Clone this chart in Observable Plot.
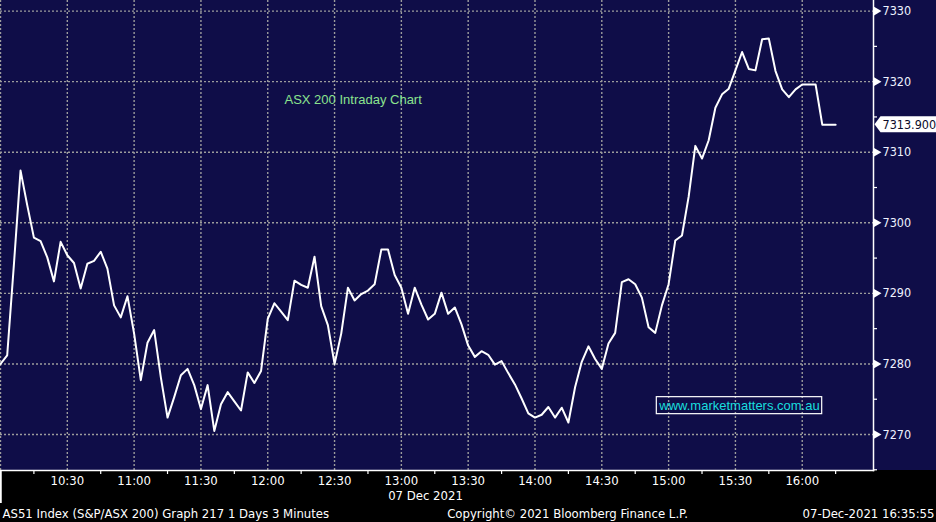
<!DOCTYPE html>
<html><head><meta charset="utf-8">
<script src="https://cdn.jsdelivr.net/npm/d3@7"></script>
<script src="https://cdn.jsdelivr.net/npm/@observablehq/plot@0.6"></script>
<style>
html,body{margin:0;padding:0;background:#000;}
#chart svg{display:block;}
</style></head><body><div id="chart"></div>
<script>
// ---- data ----
const sessionDate = "2021-12-07";
const firstBar = "10:00";
const barMinutes = 3;
const prices = [
  7280.0, 7281.2, 7294.0, 7307.4, 7302.5, 7297.9, 7297.4, 7295.1, 7291.7, 7297.3,
  7295.4, 7294.3, 7290.7, 7294.2, 7294.6, 7295.9, 7293.5, 7288.3, 7286.6, 7289.6,
  7284.3, 7277.7, 7283.0, 7284.8, 7278.1, 7272.4, 7275.3, 7278.4, 7279.3, 7277.0,
  7273.6, 7277.0, 7270.5, 7274.3, 7276.0, 7274.7, 7273.4, 7278.8, 7277.3, 7279.0,
  7286.4, 7288.6, 7287.4, 7286.2, 7291.8, 7291.2, 7290.8, 7295.2, 7288.2, 7285.5,
  7280.0, 7284.3, 7290.8, 7289.0, 7289.9, 7290.4, 7291.3, 7296.2, 7296.2, 7292.6,
  7290.8, 7287.1, 7290.8, 7288.4, 7286.3, 7287.1, 7290.1, 7287.1, 7288.0, 7285.6,
  7282.6, 7281.0, 7281.8, 7281.3, 7279.9, 7280.4, 7278.7, 7277.1, 7275.1, 7273.0,
  7272.4, 7272.8, 7273.9, 7272.4, 7273.8, 7271.7, 7276.7, 7280.3, 7282.5, 7280.7,
  7279.3, 7282.9, 7284.4, 7291.6, 7292.0, 7291.3, 7289.4, 7285.2, 7284.4, 7288.3,
  7291.3, 7297.5, 7298.2, 7303.7, 7310.9, 7309.1, 7311.7, 7316.3, 7318.2, 7319.0,
  7321.6, 7324.2, 7321.8, 7321.6, 7326.0, 7326.1, 7321.5, 7318.9, 7317.8, 7318.9,
  7319.6, 7319.6, 7319.6, 7313.9, 7313.9, 7313.9
];
const yTicks = [7270, 7280, 7290, 7300, 7310, 7320, 7330];
const yMinorTicks = [7265, 7275, 7285, 7295, 7305, 7315, 7325];
const yDomain = [7264.9, 7331.5];
const xDomain = ["10:00", "16:32"];
const gridTimes = ["10:00","10:30","11:00","11:30","12:00","12:30","13:00","13:30","14:00","14:30","15:00","15:30","16:00"];
const labelTimes = ["10:30","11:00","11:30","12:00","12:30","13:00","13:30","14:00","14:30","15:00","15:30","16:00"];
const minorTimes = ["10:15","10:45","11:15","11:45","12:15","12:45","13:15","13:45","14:15","14:45","15:15","15:45","16:15"];
const dateLabel = "07 Dec 2021";
const chartTitle = "ASX 200 Intraday Chart";
const watermark = "www.marketmatters.com.au";
const footerLeft = "AS51 Index (S&P/ASX 200) Graph 217 1 Days 3 Minutes";
const footerMid = "Copyright\u00A9 2021 Bloomberg Finance L.P.";
const footerRight = "07-Dec-2021 16:35:55";

// ---- build ----
const t = s => new Date(`${sessionDate}T${s}:00Z`);
const t0 = t(firstBar).getTime();
const data = prices.map((p, i) => ({time: new Date(t0 + i * barMinutes * 60000), price: p}));
const last = prices[prices.length - 1];

const W = 936, H = 522, MR = 63, MB = 52;
const frameW = W - MR, frameH = H - MB;
const NAVY = "#0f0d48";
const COND = "'DejaVu Sans Condensed', 'DejaVu Sans', sans-serif";
const ARIAL = "'Liberation Sans', Arial, sans-serif";
const GRID = {stroke: "#9c9c9c", strokeOpacity: 1, strokeDasharray: "2,2", strokeWidth: 1.4};

const chart = Plot.plot({
  width: W, height: H,
  marginTop: 0, marginLeft: 0, marginRight: MR, marginBottom: MB,
  style: {background: `linear-gradient(to bottom, ${NAVY} 0px, ${NAVY} ${frameH}px, #000 ${frameH}px)`,
          fontFamily: COND, fontSize: "13px", color: "white", overflow: "visible"},
  x: {type: "utc", domain: xDomain.map(t), axis: null},
  y: {domain: yDomain, axis: null},
  marks: [
    Plot.ruleY(yTicks, {y: d => d, ...GRID}),
    Plot.ruleX(gridTimes.map(t), {x: d => d, ...GRID}),
    Plot.line(data, {x: "time", y: "price", stroke: "white", strokeWidth: 2}),
    Plot.frame({anchor: "bottom", stroke: "white", strokeWidth: 1.5}),
    Plot.frame({anchor: "right", stroke: "white", strokeWidth: 1.5}),
    // x ticks below the axis line
    Plot.ruleX(minorTimes.map(t), {x: d => d, insetTop: frameH, insetBottom: -4, stroke: "white", strokeWidth: 1.2}),
    Plot.ruleX([t(firstBar)], {x: d => d, insetTop: frameH, insetBottom: -33, stroke: "white", strokeWidth: 2.5}),
    Plot.axisX(labelTimes.map(t), {tickSize: 0, tickPadding: 5, tickFormat: d3.utcFormat("%H:%M"),
      label: null, fill: "white", fontSize: 13, fontFamily: COND}),
    // y ticks right of the axis line
    Plot.ruleY(yMinorTicks, {y: d => d, insetLeft: frameW, insetRight: -4, stroke: "white", strokeWidth: 1.2}),
    Plot.dot(yTicks, {x: () => t(xDomain[1]), y: d => d, dx: 3, symbol: "triangle", rotate: 90, r: 3.2,
      fill: "white", stroke: null}),
    Plot.axisY(yTicks, {anchor: "right", tickSize: 0, tickPadding: 9, tickFormat: d3.format("d"),
      label: null, fill: "#eef2ff", fontSize: 12.5, fontFamily: COND}),
    Plot.text([last], {y: d => d, frameAnchor: "right", dx: 9, textAnchor: "start",
      text: d => d3.format(".3f")(d), fill: "#0b0b2a", fontSize: 12.5, fontFamily: COND}),
    Plot.text([chartTitle], {frameAnchor: "top-left", dx: 284, dy: 99, textAnchor: "start",
      lineAnchor: "middle", fill: "#8be38e", fontSize: 13, fontFamily: ARIAL}),
    Plot.text([watermark], {frameAnchor: "top-left", dx: 739, dy: 405, textAnchor: "middle",
      lineAnchor: "middle", fill: "#19dede", fontSize: 13, fontFamily: ARIAL}),
    Plot.text([dateLabel], {frameAnchor: "bottom-left", dx: 425, dy: 25, textAnchor: "middle",
      lineAnchor: "middle", fill: "white", fontSize: 13, fontFamily: COND}),
    Plot.text([footerLeft], {frameAnchor: "bottom-left", dx: 2, dy: 43, textAnchor: "start",
      lineAnchor: "middle", fill: "white", fontSize: 13, fontFamily: COND}),
    Plot.text([footerMid], {frameAnchor: "bottom-left", dx: 567, dy: 43, textAnchor: "middle",
      lineAnchor: "middle", fill: "white", fontSize: 13, fontFamily: COND}),
    Plot.text([footerRight], {frameAnchor: "bottom-left", dx: 934, dy: 43, textAnchor: "end",
      lineAnchor: "middle", fill: "white", fontSize: 13, fontFamily: COND})
  ]
});
document.getElementById("chart").append(chart);

// boxes behind watermark and last-price tag
const NS = "http://www.w3.org/2000/svg";
for (const el of chart.querySelectorAll("text")) {
  const txt = el.textContent;
  if (txt === watermark) {
    const b = el.getBBox();
    const r = document.createElementNS(NS, "rect");
    r.setAttribute("x", b.x - 2); r.setAttribute("y", b.y - 1);
    r.setAttribute("width", b.width + 4); r.setAttribute("height", b.height + 2);
    r.setAttribute("fill", "none"); r.setAttribute("stroke", "white"); r.setAttribute("stroke-width", 1.2);
    if (el.getAttribute("transform")) r.setAttribute("transform", el.getAttribute("transform"));
    el.parentNode.insertBefore(r, el);
  }
  if (txt === d3.format(".3f")(last)) {
    const b = el.getBBox();
    const cy = b.y + b.height / 2;
    const x0 = b.x - 8, x1 = b.x - 2, x2 = b.x + b.width + 6;
    const y0 = cy - 8, y1 = cy + 8;
    const p = document.createElementNS(NS, "polygon");
    p.setAttribute("points", `${x0},${cy} ${x1},${y0} ${x2},${y0} ${x2},${y1} ${x1},${y1}`);
    p.setAttribute("fill", "white");
    if (el.getAttribute("transform")) p.setAttribute("transform", el.getAttribute("transform"));
    el.parentNode.insertBefore(p, el);
  }
}
</script></body></html>
